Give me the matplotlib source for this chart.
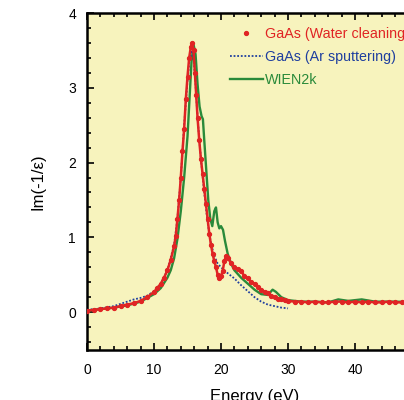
import matplotlib
matplotlib.use("Agg")
import matplotlib.pyplot as plt
from matplotlib.lines import Line2D
from matplotlib.ticker import MultipleLocator, FixedLocator

plt.rcParams['font.family'] = ['Liberation Sans', 'DejaVu Sans']

# GaAs (Water cleaning) - red dots
water_x = [0, 1, 2, 3, 4, 5, 6, 7, 8, 9, 10, 10.5, 11, 11.5, 12, 12.5, 13, 13.25, 13.5, 13.75,
           14, 14.25, 14.5, 14.75, 15, 15.25, 15.5, 15.7, 15.9, 16.1, 16.3, 16.5, 16.75, 17,
           17.25, 17.5, 17.75, 18, 18.25, 18.5, 18.75, 19, 19.25, 19.5, 19.75, 20, 20.25, 20.5,
           20.75, 21, 21.5, 22, 22.5, 23, 23.5, 24, 24.5, 25, 25.5, 26, 26.5, 27, 27.5, 28,
           28.5, 29, 29.5, 30, 31, 32, 33, 34, 35, 36, 37, 38, 39, 40, 41, 42, 43, 44, 45, 46,
           47, 48, 49, 50]
water_y = [0.02, 0.03, 0.04, 0.05, 0.06, 0.08, 0.10, 0.12, 0.15, 0.20, 0.27, 0.32, 0.38, 0.46,
           0.56, 0.70, 0.88, 1.02, 1.25, 1.50, 1.80, 2.15, 2.45, 2.85, 3.15, 3.40, 3.55, 3.60,
           3.50, 3.20, 2.90, 2.60, 2.30, 2.05, 1.85, 1.65, 1.45, 1.25, 1.05, 0.90, 0.78, 0.68,
           0.60, 0.50, 0.45, 0.48, 0.55, 0.68, 0.75, 0.72, 0.66, 0.60, 0.58, 0.55, 0.48, 0.45,
           0.40, 0.38, 0.33, 0.30, 0.27, 0.25, 0.22, 0.20, 0.18, 0.17, 0.16, 0.15, 0.14, 0.14,
           0.13, 0.14, 0.13, 0.13, 0.14, 0.14, 0.13, 0.14, 0.13, 0.14, 0.13, 0.13, 0.14, 0.13,
           0.13, 0.12, 0.12, 0.13]

# GaAs (Ar sputtering) - blue dotted
ar_x = [0, 2, 4, 5, 6, 7, 8, 9, 10, 11, 12, 13, 13.5, 14, 14.5, 15, 15.3, 15.6, 15.9, 16.2,
        16.5, 17, 17.5, 18, 18.5, 19, 19.5, 20, 20.5, 21, 22, 23, 24, 25, 26, 27, 28, 29, 30]
ar_y = [0.03, 0.05, 0.08, 0.11, 0.14, 0.17, 0.19, 0.22, 0.28, 0.38, 0.56, 0.90, 1.25, 1.80,
        2.50, 3.10, 3.38, 3.50, 3.40, 3.05, 2.60, 2.05, 1.60, 1.20, 0.92, 0.75, 0.65, 0.60,
        0.56, 0.52, 0.45, 0.36, 0.28, 0.20, 0.14, 0.10, 0.08, 0.06, 0.05]

# WIEN2k - green line
wien_x = [0, 2, 4, 6, 8, 10, 11, 12, 12.5, 13, 13.5, 14, 14.5, 15, 15.3, 15.6, 15.9, 16.2,
          16.5, 16.8, 17.1, 17.3, 17.5, 17.8, 18.1, 18.4, 18.7, 19.0, 19.25, 19.5, 19.75, 20.0,
          20.3, 20.6, 21, 21.5, 22, 23, 24, 25, 26, 27, 27.7, 28.2, 29, 30, 32, 34, 36, 37.5,
          39, 41, 43, 46, 50]
wien_y = [0.02, 0.04, 0.06, 0.09, 0.14, 0.24, 0.32, 0.46, 0.56, 0.72, 0.98, 1.35, 1.80, 2.35,
          2.85, 3.35, 3.58, 3.45, 3.05, 2.75, 2.62, 2.58, 2.30, 1.90, 1.50, 1.25, 1.15, 1.35,
          1.40, 1.20, 1.12, 1.15, 1.10, 0.95, 0.78, 0.65, 0.56, 0.46, 0.38, 0.30, 0.24, 0.23,
          0.30, 0.27, 0.20, 0.16, 0.14, 0.14, 0.13, 0.17, 0.15, 0.17, 0.14, 0.14, 0.13]

x_ticks = [0, 10, 20, 30, 40]
y_ticks = [0, 1, 2, 3, 4]
labels = ["GaAs (Water cleaning)", "GaAs (Ar sputtering)", "WIEN2k"]
RED, BLUE, GREEN = "#e02424", "#1f3f9f", "#2a8a3a"

fig = plt.figure(figsize=(4.04, 4.0), dpi=100)
ax = fig.add_axes([87/404, 1-349.5/400, 335/404, (349.5-13)/400])
ax.set_facecolor("#f7f3bd")

ax.plot(wien_x, wien_y, color=GREEN, lw=1.7, zorder=2)
ax.plot(ar_x, ar_y, color=BLUE, lw=1.3, ls=(0, (1, 1)), zorder=3)
ax.plot(water_x, water_y, color=RED, lw=1.8, marker='o', ms=2.8, mec=RED, zorder=4)

ax.set_xlim(0, 50)
ax.set_ylim(-0.5, 4)
ax.xaxis.set_major_locator(FixedLocator(x_ticks))
ax.xaxis.set_minor_locator(MultipleLocator(2))
ax.yaxis.set_major_locator(FixedLocator(y_ticks))
ax.yaxis.set_minor_locator(MultipleLocator(0.2))
ax.tick_params(which='both', direction='in', top=True, right=False, labelsize=10,
               width=1.2, colors='black')
ax.tick_params(which='major', length=5)
ax.tick_params(which='minor', length=3)
ax.tick_params(axis='x', pad=10)
ax.tick_params(axis='y', pad=8)
for s in ['left', 'bottom', 'top']:
    ax.spines[s].set_linewidth(1.8)
ax.spines['right'].set_visible(False)

ax.set_xlabel("Energy (eV)", fontsize=12, labelpad=8)
ax.set_ylabel("Im(-1/ε)", fontsize=12, labelpad=16)

handles = [Line2D([], [], color=RED, ls='none', marker='o', ms=2.8),
           Line2D([], [], color=BLUE, lw=1.3, ls=(0, (1, 1))),
           Line2D([], [], color=GREEN, lw=1.7)]
leg = ax.legend(handles, labels, loc='upper left', bbox_to_anchor=(0.409, 0.974),
                frameon=False, fontsize=10.3, handlelength=2.3, handletextpad=0.15,
                labelspacing=0.6, labelcolor=[RED, BLUE, GREEN], borderaxespad=0)

fig.savefig("out.png", dpi=100)
